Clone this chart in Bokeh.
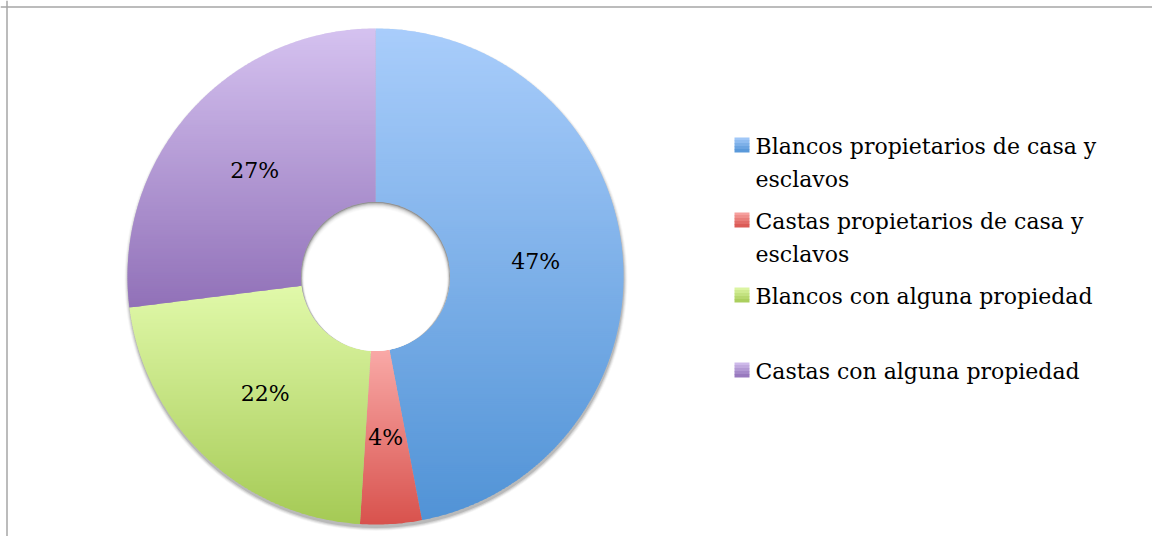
import numpy as np
from bokeh.plotting import figure
from bokeh.models import Range1d, ColumnDataSource, Span
from bokeh.core.properties import value
from bokeh.embed import file_html
from bokeh.resources import INLINE

# ---- data ----
categories = ["Blancos propietarios de casa y\nesclavos",
              "Castas propietarios de casa y\nesclavos",
              "Blancos con alguna propiedad",
              "Castas con alguna propiedad"]
values = [47, 4, 22, 27]
labels = ["47%", "4%", "22%", "27%"]
top_colors = ["#a9cdfb", "#f9a9a7", "#e1f9aa", "#d5c2f0"]
bottom_colors = ["#5193d6", "#d8524d", "#a5ca55", "#9171b8"]

# ---- geometry / style (page pixel coordinates) ----
W, H = 1152, 536
CX, CY = 375, H - 276
R_OUT, R_IN = 248, 74.5
LABEL_R = 161
FONT = "DejaVu Serif"


def hex2rgb(h):
    h = h.lstrip("#")
    return np.array([int(h[i:i + 2], 16) for i in (0, 2, 4)], dtype=float)


def lerp_color(c0, c1, t):
    a, b = hex2rgb(c0), hex2rgb(c1)
    c = a + (b - a) * t
    return "#%02x%02x%02x" % tuple(int(round(v)) for v in c)


def clip(poly, y, keep_above):
    out = []
    n = len(poly)
    for i in range(n):
        P = poly[i]
        Q = poly[(i + 1) % n]
        pin = P[1] >= y if keep_above else P[1] <= y
        qin = Q[1] >= y if keep_above else Q[1] <= y
        if pin:
            out.append(P)
        if pin != qin:
            t = (y - P[1]) / (Q[1] - P[1])
            out.append((P[0] + t * (Q[0] - P[0]), y))
    return out


p = figure(width=W, height=H, x_range=Range1d(0, W), y_range=Range1d(0, H),
           x_axis_type=None, y_axis_type=None, output_backend="svg",
           toolbar_location=None, min_border=0)
p.grid.visible = False
p.outline_line_color = None
p.background_fill_color = "white"

# outer soft shadow
for k, a in zip([0.5, 1.5, 2.5, 3.5], [0.12, 0.09, 0.06, 0.03]):
    p.annulus(x=[CX + 0.5], y=[CY - 3], inner_radius=R_IN, outer_radius=R_OUT + k,
              inner_radius_units="screen", outer_radius_units="screen",
              fill_color="#000000", fill_alpha=a, line_color=None)

# donut slices with vertical gradient (drawn as horizontal bands)
total = float(sum(values))
cum = np.concatenate([[0], np.cumsum(values)]) / total
xs, ys, cols = [], [], []
BAND = 2.0
OV = 0.8
for i in range(len(values)):
    a0 = np.pi / 2 - 2 * np.pi * cum[i]
    a1 = np.pi / 2 - 2 * np.pi * cum[i + 1]
    n = max(int(abs(a1 - a0) / (2 * np.pi) * 720), 8)
    ang_o = np.linspace(a0, a1, n)
    ang_i = np.linspace(a1, a0, max(n // 3, 4))
    poly = [(CX + R_OUT * np.cos(a), CY + R_OUT * np.sin(a)) for a in ang_o] + \
           [(CX + R_IN * np.cos(a), CY + R_IN * np.sin(a)) for a in ang_i]
    py = [q[1] for q in poly]
    ytop, ybot = max(py), min(py)
    span = ytop - ybot
    k = 0
    while ytop - k * BAND > ybot:
        hi = ytop - k * BAND + (OV if k > 0 else 0)
        lo = max(ytop - (k + 1) * BAND, ybot)
        band = clip(clip(poly, hi, False), lo, True)
        if len(band) >= 3:
            t = ((ytop - (lo + min(hi, ytop)) / 2) / span)
            xs.append([q[0] for q in band])
            ys.append([q[1] for q in band])
            cols.append(lerp_color(top_colors[i], bottom_colors[i], min(max(t, 0), 1)))
        k += 1

p.patches(xs="xs", ys="ys", fill_color="cols", line_color=None,
          source=ColumnDataSource(dict(xs=xs, ys=ys, cols=cols)))

# inner shadow of the hole
p.circle(x=[CX], y=[CY], radius=R_IN, radius_units="screen",
         fill_color="#8c8c8c", line_color=None)
for s, a in zip([0.8, 1.6, 2.5, 3.4, 4.4, 5.5], [0.3, 0.3, 0.35, 0.4, 0.5, 0.6]):
    p.circle(x=[CX], y=[CY - s / 2], radius=R_IN - s / 2, radius_units="screen",
             fill_color="white", fill_alpha=a, line_color=None)
p.circle(x=[CX], y=[CY - 3.3], radius=R_IN - 3.3, radius_units="screen",
         fill_color="white", line_color=None)

# percentage labels
mid = np.pi / 2 - 2 * np.pi * (cum[:-1] + cum[1:]) / 2
lx = CX + LABEL_R * np.cos(mid)
ly = CY + LABEL_R * np.sin(mid)
p.text(x=lx, y=ly, text=labels, text_align="center", text_baseline="middle",
       text_font=value(FONT), text_font_size="22px", text_color="#000000")

# legend
LEG_X = 734
LEG_Y0 = H - 137
LEG_DY = 75
SQ = 15
for i in range(len(categories)):
    top = LEG_Y0 - i * LEG_DY
    nb = 5
    for b in range(nb):
        t = (b + 0.5) / nb
        p.quad(left=[LEG_X], right=[LEG_X + SQ],
               top=[top - b * SQ / nb + (0.5 if b else 0)], bottom=[top - (b + 1) * SQ / nb],
               fill_color=lerp_color(top_colors[i], bottom_colors[i], t), line_color=None)

p.text(x=[LEG_X + 21] * len(categories),
       y=[H - 133 - i * LEG_DY for i in range(len(categories))],
       text=categories, text_align="left", text_baseline="top",
       text_font=value(FONT), text_font_size="22px", text_color="#000000",
       text_line_height=1.32)

# frame border (top and left only visible)
p.add_layout(Span(location=6.5, dimension="height", line_color="#a6a6a6", line_width=1.5))
p.add_layout(Span(location=H - 6.5, dimension="width", line_color="#a6a6a6", line_width=1.5))

open("out.html", "w").write(file_html(p, INLINE))
